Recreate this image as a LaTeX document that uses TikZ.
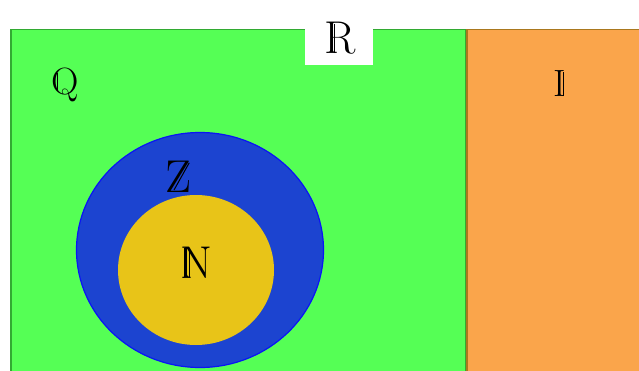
\documentclass[tikz,border=0pt]{standalone}
\usepackage{fontspec}
\usetikzlibrary{shapes.geometric}
\definecolor{qgreen}{RGB}{85,255,85}
\definecolor{qgreenb}{RGB}{50,170,50}
\definecolor{iorange}{RGB}{250,165,75}
\definecolor{iorangeb}{RGB}{170,120,30}
\definecolor{zblue}{RGB}{28,68,208}
\definecolor{zblueb}{RGB}{10,20,245}
\definecolor{nyellow}{RGB}{232,196,24}
\tikzset{
  biglabel/.style={inner sep=0pt, anchor=base, font=\fontsize{46}{50}\selectfont},
  smalllabel/.style={inner sep=0pt, anchor=base, font=\fontsize{38}{42}\selectfont},
  dsl/.style={line width=1pt, line cap=butt},
  dsthick/.style={line width=3pt, line cap=butt},
}
% extra stroke of a double-struck letter, offsets in em from base west
\newcommand{\dsline}[7][dsl]{\draw[#1] ([shift={(#3*#7,#4*#7)}]#2.base west) -- ([shift={(#5*#7,#6*#7)}]#2.base west);}
\begin{document}
\begin{tikzpicture}[x=1pt,y=1pt]
\useasboundingbox (0,0) rectangle (639,370);
\clip (0,0) rectangle (639,370);
% rationals region (green)
\node[draw=qgreenb, line width=1.5pt, fill=qgreen, inner sep=0pt, minimum width=455pt, minimum height=350pt, anchor=north west] (Qbox) at (10,341) {};
% irrationals region (orange)
\node[draw=iorangeb, line width=1.5pt, fill=iorange, inner sep=0pt, minimum width=180pt, minimum height=350pt, anchor=north west] (Ibox) at (466,341) {};
% white label box for R
\node[fill=white, inner sep=0pt, minimum width=68pt, minimum height=62pt, anchor=south] (Rbox) at (339,305) {};
\node[biglabel] (R) at (340,316) {R};
\node[smalllabel] (Q) at (65,275) {Q};
\node[smalllabel] (I) at (560,273) {I};
% integers (blue)
\node[draw=zblueb, line width=1.2pt, fill=zblue, ellipse, inner sep=0pt, minimum width=247pt, minimum height=235pt] (Z) at (200,120) {};
% naturals (yellow)
\node[fill=nyellow, ellipse, inner sep=0pt, minimum width=156pt, minimum height=150pt] (N) at (196,100) {};
\node[biglabel] (Zl) at (178,178) {Z};
\node[biglabel] (Nl) at (196,92) {N};
% double strokes
\dsline{R}{0.235}{0.02}{0.235}{0.66}{46}
\dsline{I}{0.25}{0.02}{0.25}{0.66}{38}
\dsline[dsthick]{Nl}{0.13}{0.02}{0.13}{0.66}{46}
\dsline{Nl}{0.205}{0.02}{0.205}{0.56}{46}
\dsline{Q}{0.175}{0.12}{0.175}{0.58}{38}
\dsline{Zl}{0.20}{0.045}{0.53}{0.635}{46}
\end{tikzpicture}
\end{document}
